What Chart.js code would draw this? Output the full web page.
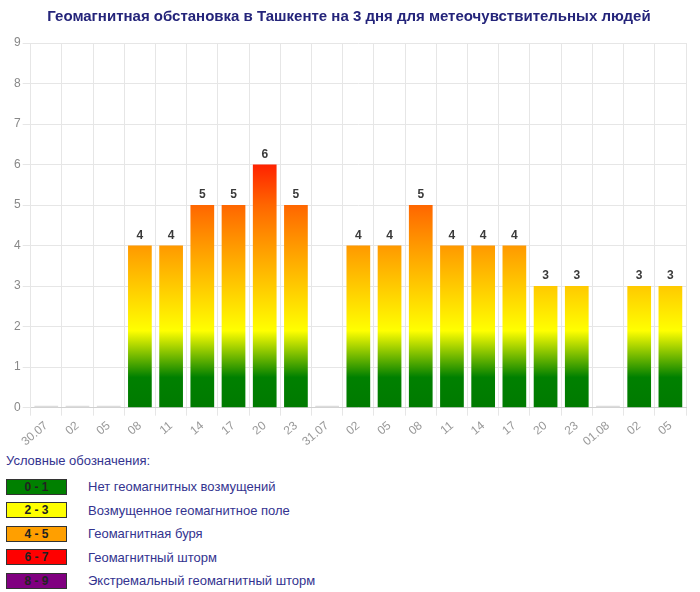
<!DOCTYPE html>
<html>
<head>
<meta charset="utf-8">
<script src="https://cdn.jsdelivr.net/npm/chart.js@4"></script>
<style>
    body { margin: 0; background: #fff; font-family: "Liberation Sans", Arial, sans-serif; }
    .chart-box { position: relative; width: 700px; height: 452px; }
    .legend { padding-left: 6px; color: #33338f; font-size: 13px; }
    .legend-title { margin-top: 1px; margin-bottom: 7px; }
    .row { display: flex; align-items: center; height: 23.5px; }
    .swatch { width: 59px; height: 14px; border: 1px solid #333; text-align: center;
        font-weight: bold; font-size: 12px; line-height: 14px; color: #222; margin-right: 21px; }
</style>
</head>
<body>
<div class="chart-box"><canvas id="geo"></canvas></div>
<div class="legend">
    <div class="legend-title">Условные обозначения:</div>
    <div id="legend-rows"></div>
</div>
<script>
"use strict";

const hours = ["30.07", "02", "05", "08", "11", "14", "17", "20", "23",
    "31.07", "02", "05", "08", "11", "14", "17", "20", "23",
    "01.08", "02", "05"];
const kIndex = [0, 0, 0, 4, 4, 5, 5, 6, 5, 0, 4, 4, 5, 4, 4, 4, 3, 3, 0, 3, 3];
const yTicks = [0, 1, 2, 3, 4, 5, 6, 7, 8, 9];

const legendRanges = ["0 - 1", "2 - 3", "4 - 5", "6 - 7", "8 - 9"];
const legendTexts = ["Нет геомагнитных возмущений", "Возмущенное геомагнитное поле",
    "Геомагнитная буря", "Геомагнитный шторм", "Экстремальный геомагнитный шторм"];
const legendColors = ["#008000", "#ffff00", "#ff9f00", "#ff0000", "#800080"];

// gradient stops, in axis values
const gradientStops = [
    [0, "#007a00"], [0.75, "#008000"], [1.9, "#ffff00"],
    [4, "#ff9900"], [5, "#ff6600"], [6, "#ff2200"], [9, "#ff0000"]
];

function buildLegend() {
    const holder = document.querySelector("#legend-rows");
    legendRanges.forEach((range, i) => {
        const row = document.createElement("div");
        row.className = "row";
        row.innerHTML = `<div class="swatch" style="background:${legendColors[i]}">${range}</div><span>${legendTexts[i]}</span>`;
        holder.appendChild(row);
    });
}

function barColor(context) {
    const chart = context.chart;
    const area = chart.chartArea;
    if (!area) return "#008000";
    if (context.raw === 0) return "#dcdcdc";
    const y = chart.scales.y;
    const bottom = y.getPixelForValue(0);
    const top = y.getPixelForValue(9);
    const gradient = chart.ctx.createLinearGradient(0, bottom, 0, top);
    gradientStops.forEach(([value, color]) => gradient.addColorStop(value / 9, color));
    return gradient;
}

const valueLabels = {
    id: "valueLabels",
    afterDatasetsDraw(chart) {
        const ctx = chart.ctx;
        const meta = chart.getDatasetMeta(0);
        ctx.save();
        ctx.font = "bold 12px 'Liberation Sans', Arial, sans-serif";
        ctx.fillStyle = "#3a3a3a";
        ctx.textAlign = "center";
        ctx.textBaseline = "bottom";
        meta.data.forEach((bar, i) => {
            if (kIndex[i] > 0) ctx.fillText(kIndex[i], bar.x, bar.y - 4);
        });
        ctx.restore();
    }
};

function buildChart() {
    const ctx = document.querySelector("#geo").getContext("2d");
    new Chart(ctx, {
        type: "bar",
        data: {
            labels: hours,
            datasets: [{
                data: kIndex,
                backgroundColor: barColor,
                barPercentage: 0.76,
                categoryPercentage: 1,
                minBarLength: 2
            }]
        },
        options: {
            responsive: true,
            maintainAspectRatio: false,
            animation: false,
            layout: { padding: { left: 12, right: 14, top: 0, bottom: 0 } },
            plugins: {
                legend: { display: false },
                tooltip: { enabled: false },
                title: {
                    display: true,
                    text: "Геомагнитная обстановка в Ташкенте на 3 дня для метеочувствительных людей",
                    color: "#24247a",
                    font: { size: 15, weight: "bold", family: "'Liberation Sans', Arial, sans-serif" },
                    padding: { top: 8, bottom: 17 }
                }
            },
            scales: {
                x: {
                    grid: { color: "#e6e6e6", offset: true, tickLength: 8 },
                    border: { color: "#d0d0d0" },
                    ticks: {
                        color: "#999",
                        minRotation: 40,
                        maxRotation: 40,
                        autoSkip: false,
                        font: { size: 12, family: "'Liberation Sans', Arial, sans-serif" }
                    }
                },
                y: {
                    min: 0,
                    max: 9,
                    afterBuildTicks: axis => { axis.ticks = yTicks.map(v => ({ value: v })); },
                    grid: { color: "#e6e6e6", tickLength: 8 },
                    border: { color: "#e6e6e6" },
                    ticks: {
                        color: "#888",
                        padding: 2,
                        font: { size: 12, family: "'Liberation Sans', Arial, sans-serif" }
                    }
                }
            }
        },
        plugins: [valueLabels]
    });
}

buildLegend();
buildChart();
</script>
</body>
</html>
